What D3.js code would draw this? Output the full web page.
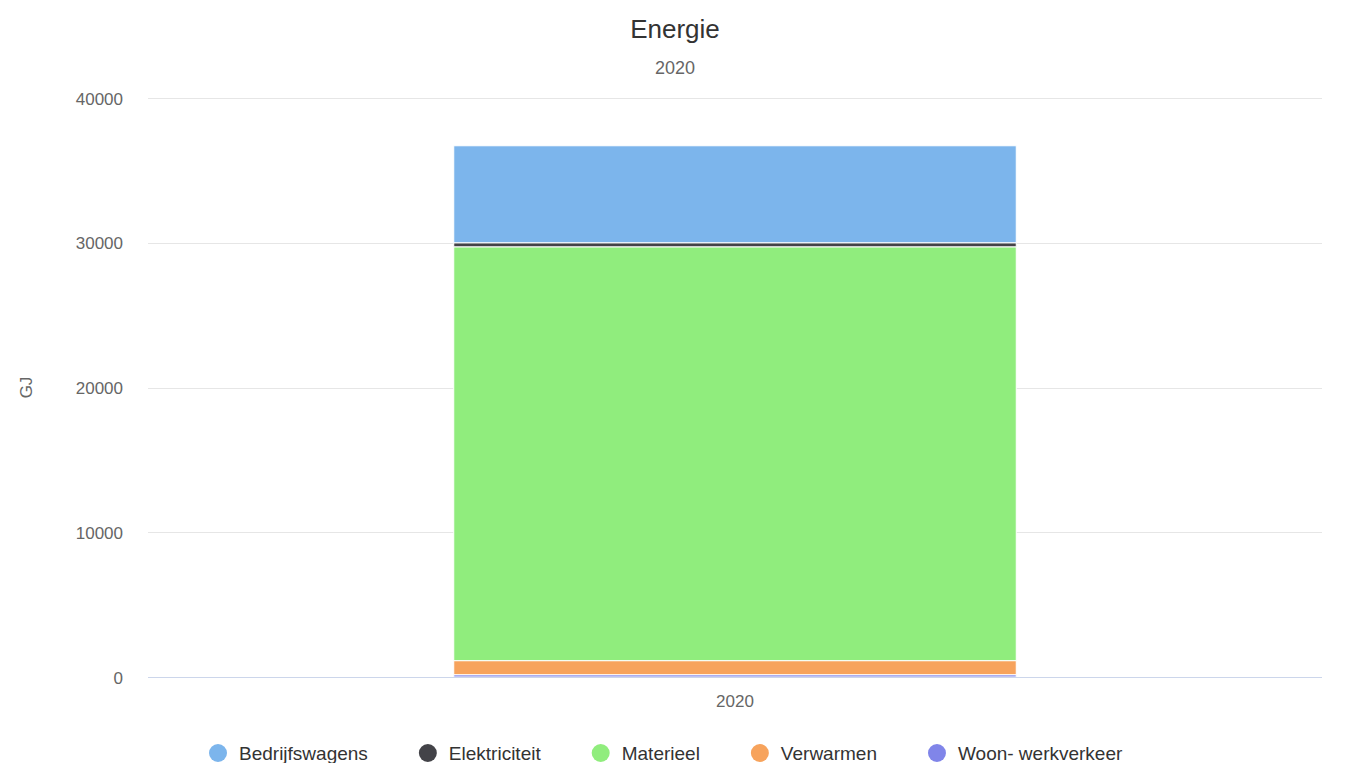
<!DOCTYPE html>
<html>
<head>
<meta charset="utf-8">
<script src="https://cdn.jsdelivr.net/npm/d3@7"></script>
<style>
  html, body { margin: 0; padding: 0; background: #ffffff; }
  svg { display: block; font-family: "Liberation Sans", Arial, Helvetica, sans-serif; }
</style>
</head>
<body>
<svg id="chart" width="1372" height="763"></svg>
<script>
const categories = ["2020"];
const seriesNames = ["Bedrijfswagens", "Elektriciteit", "Materieel", "Verwarmen", "Woon- werkverkeer"];
const seriesColors = ["#7cb5ec", "#434348", "#90ed7d", "#f7a35c", "#8085e9"];
const bedrijfswagens = [6700];
const elektriciteit = [280];
const materieel = [28590];
const verwarmen = [970];
const woonWerkverkeer = [160];
const yTicks = [0, 10000, 20000, 30000, 40000];
const titleText = "Energie";
const subtitleText = "2020";
const yAxisTitle = "GJ";

const seriesValues = [bedrijfswagens, elektriciteit, materieel, verwarmen, woonWerkverkeer];

const svg = d3.select("#chart");
const W = 1372, H = 763;
const margin = { left: 148, right: 50, top: 98, bottom: 86 };
const plotW = W - margin.left - margin.right;
const plotBottom = H - margin.bottom;

const x = d3.scaleBand().domain(categories).range([margin.left, margin.left + plotW])
  .paddingInner(0).paddingOuter(0.5417);
const y = d3.scaleLinear().domain([0, 40000]).range([plotBottom, margin.top]);

// Title & subtitle
svg.append("text").attr("x", 675).attr("y", 38).attr("text-anchor", "middle")
  .attr("font-size", 26).attr("fill", "#333333").text(titleText);
svg.append("text").attr("x", 675).attr("y", 74).attr("text-anchor", "middle")
  .attr("font-size", 18).attr("fill", "#666666").text(subtitleText);

// Gridlines
svg.append("g").selectAll("line").data(yTicks.filter(t => t !== 0)).join("line")
  .attr("x1", margin.left).attr("x2", margin.left + plotW)
  .attr("y1", d => Math.round(y(d)) + 0.5).attr("y2", d => Math.round(y(d)) + 0.5)
  .attr("stroke", "#e6e6e6").attr("stroke-width", 1);

// Y tick labels
svg.append("g").selectAll("text").data(yTicks).join("text")
  .attr("x", 123).attr("y", d => y(d) + 6.5).attr("text-anchor", "end")
  .attr("font-size", 17).attr("fill", "#666666").text(d => d);

// Y axis title
svg.append("text").attr("transform", `translate(26,${(margin.top + plotBottom) / 2}) rotate(-90)`)
  .attr("text-anchor", "middle").attr("dy", "0.35em")
  .attr("font-size", 17).attr("fill", "#666666").text(yAxisTitle);

// Stack data: first series on top (Highcharts order)
const rows = categories.map((c, i) => {
  const r = { category: c };
  seriesNames.forEach((s, k) => r[s] = seriesValues[k][i]);
  return r;
});
const stack = d3.stack().keys(seriesNames.slice().reverse());
const stacked = stack(rows);

const bw = x.bandwidth();
const g = svg.append("g");
stacked.forEach(layer => {
  const color = seriesColors[seriesNames.indexOf(layer.key)];
  g.selectAll(null).data(layer).join("rect")
    .attr("x", d => x(d.data.category) + 0.5)
    .attr("width", bw - 1)
    .attr("y", d => y(d[1]))
    .attr("height", d => Math.max(0, y(d[0]) - y(d[1])))
    .attr("fill", color)
    .attr("stroke", "#ffffff").attr("stroke-width", 1);
});

// X axis line
svg.append("line").attr("x1", margin.left).attr("x2", margin.left + plotW)
  .attr("y1", Math.round(y(0)) + 0.5).attr("y2", Math.round(y(0)) + 0.5)
  .attr("stroke", "#ccd6eb").attr("stroke-width", 1);

// X labels
svg.append("g").selectAll("text").data(categories).join("text")
  .attr("x", d => x(d) + bw / 2).attr("y", 707).attr("text-anchor", "middle")
  .attr("font-size", 17).attr("fill", "#666666").text(d => d);

// Legend
const legend = svg.append("g");
let lx = 209;
const ly = 753;
seriesNames.forEach((s, k) => {
  const item = legend.append("g");
  item.append("circle").attr("cx", lx + 9).attr("cy", ly).attr("r", 9).attr("fill", seriesColors[k]);
  const t = item.append("text").attr("x", lx + 30).attr("y", ly + 7)
    .attr("font-size", 19).attr("fill", "#333333").text(s);
  const w = t.node().getComputedTextLength();
  lx = lx + 30 + w + 51;
});
</script>
</body>
</html>
